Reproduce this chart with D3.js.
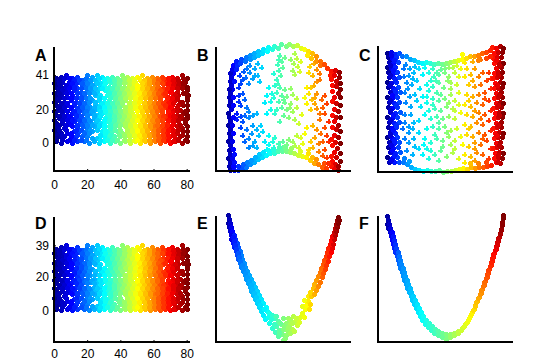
<!DOCTYPE html>
<html><head><meta charset="utf-8"><script src="https://cdn.jsdelivr.net/npm/d3@7"></script>
<style>html,body{margin:0;background:#fff}svg{display:block}text{font-family:"Liberation Sans",Arial,sans-serif}</style></head>
<body><svg id="c" width="540" height="360"></svg>
<script>
const xTicks=[0,20,40,60,80];
const aTicks=[0,20,41];
const dTicks=[0,20,39];
const panelLetters=["A","B","C","D","E","F"];
const jetStops=["#00008f","#0000ff","#0080ff","#00ffff","#80ff80","#ffff00","#ff8000","#ff0000","#800000"];
const planePts=[
1,39,4,40,7,41,11,39,14,40,17,38,20,41,23,40,26,41,29,40,32,39,35,40,38,39,41,41,44,40,47,39,50,40,53,41,56,39,59,40,62,39,65,40,68,38,71,40,74,39,77,41,80,39,
2,36,5,37,9,37,13,36,16,36,19,37,22,37,25,38,28,36,34,37,37,36,40,38,43,37,46,36,49,37,52,38,55,36,58,37,61,36,64,38,67,36,70,37,73,37,76,36,79,37,
1,34,4,34,7,33,10,35,14,33,18,34,21,34,24,35,27,33,30,35,33,34,36,34,39,35,42,34,45,33,48,35,51,34,54,33,57,35,60,34,63,34,66,33,69,35,72,34,75,33,78,35,
2,31,6,31,9,31,12,32,16,31,20,31,23,32,26,31,31,32,34,31,37,32,40,31,43,32,46,31,49,32,52,31,55,31,58,32,61,31,65,31,68,32,71,30,74,31,80,32,
1,28,4,29,8,28,11,29,14,28,18,29,21,28,25,29,28,29,32,29,35,28,38,29,41,28,44,29,47,28,50,29,53,28,56,29,59,28,62,28,66,29,69,28,72,28,75,29,78,30,81,29,
2,26,6,25,10,26,13,25,16,26,20,25,23,26,27,26,30,25,33,26,36,25,39,26,43,26,46,25,49,26,52,26,55,25,58,26,61,25,64,26,67,25,70,25,73,26,76,25,80,26,
1,23,4,23,8,23,12,23,15,22,18,23,22,22,25,23,28,23,31,22,34,23,37,22,41,23,44,22,47,23,50,23,53,22,56,23,59,23,62,22,65,23,68,22,71,23,75,23,78,23,
2,20,6,20,10,21,13,20,17,20,20,20,24,20,27,20,30,20,33,20,36,20,39,20,42,20,45,20,48,21,51,20,54,20,57,20,60,19,63,20,66,21,72,20,76,20,80,20,
1,17,5,18,8,17,11,18,15,17,18,18,22,18,26,17,29,18,32,17,35,18,38,17,41,18,44,17,47,18,50,17,53,18,56,17,59,18,62,17,65,18,68,17,71,18,74,17,78,18,
3,15,7,15,10,15,13,15,17,15,20,15,24,15,27,15,31,15,34,15,37,15,40,15,43,15,46,15,49,15,52,15,55,15,58,15,61,15,64,15,67,15,70,15,73,15,77,15,80,15,
1,12,5,12,9,12,12,13,16,12,19,12,22,13,25,12,28,12,32,13,35,12,38,13,42,12,45,13,48,12,51,13,54,12,57,13,60,12,63,13,66,12,69,13,72,12,75,13,79,12,
2,10,6,9,11,10,14,9,18,10,21,9,24,10,27,10,30,9,33,10,36,9,39,10,43,10,46,9,49,10,52,9,55,10,58,9,61,10,64,9,67,10,70,9,74,10,77,9,80,10,
1,7,4,6,8,6,12,7,15,7,19,7,23,7,29,7,32,7,35,7,38,7,41,6,44,7,47,7,50,6,53,7,56,7,59,6,62,7,65,7,68,6,71,7,74,6,78,7,
3,4,6,4,10,4,13,4,17,4,20,4,26,3,30,4,33,4,36,4,40,4,43,4,46,4,49,4,52,3,55,4,58,4,61,4,64,4,67,4,70,4,73,3,76,4,80,4,
1,1,4,0,8,1,11,0,14,1,18,1,21,0,24,1,27,0,30,1,34,0,37,1,40,0,43,1,46,0,49,1,52,0,55,1,58,0,61,1,64,0,67,1,70,0,73,1,77,0,80,1
];
const planeFill=[
3,38,6,39,9,39,12,38,15,38,19,39,22,38,27,39,30,38,33,38,36,38,39,38,42,39,45,38,48,38,51,39,54,38,57,38,60,38,63,38,66,39,69,39,72,38,75,38,78,39,
0,36,3,36,7,35,11,36,17,36,20,36,23,35,26,36,31,36,36,35,39,36,42,36,45,35,48,36,50,35,53,36,57,36,60,36,62,36,65,36,69,36,72,35,75,35,78,36,
3,33,5,32,9,33,12,34,16,33,19,33,22,33,25,33,29,33,32,33,35,33,38,33,41,33,44,32,47,33,50,33,53,33,56,33,59,33,62,33,64,32,68,33,71,33,74,33,77,33,80,34,
0,30,3,30,7,30,10,30,14,30,18,30,21,30,24,30,33,30,36,30,39,30,42,30,45,30,48,30,51,30,54,30,57,30,60,30,63,30,67,30,70,31,73,29,79,30,
3,27,6,27,10,28,13,27,16,28,19,27,22,27,27,28,30,27,34,27,37,27,40,27,43,27,46,27,49,27,52,27,55,27,58,27,61,27,64,28,68,27,71,27,74,27,80,28,
0,25,4,24,8,24,12,24,15,24,18,24,21,25,25,25,29,24,32,24,35,24,38,24,41,25,45,24,48,24,51,25,54,24,57,25,60,24,63,24,66,24,69,24,72,24,77,25,
3,22,6,22,10,22,14,21,17,22,20,22,24,22,27,22,30,22,33,22,36,22,39,22,43,22,46,22,49,22,52,22,55,22,58,22,61,22,64,22,67,23,70,22,74,22,80,23,
0,19,4,19,8,19,12,19,15,19,19,19,23,19,28,19,31,19,34,19,37,19,40,19,43,19,46,19,50,19,53,19,56,19,59,19,62,19,65,20,69,19,74,19,79,19,
3,16,6,16,9,16,13,17,16,16,20,17,24,17,28,16,33,17,36,16,39,16,42,16,45,16,48,16,51,16,54,16,57,16,60,16,64,16,66,16,70,17,72,16,76,16,80,17,
0,14,5,14,8,14,11,14,15,14,18,14,21,14,26,14,30,14,33,14,36,14,39,14,41,14,44,14,47,14,50,14,53,14,56,14,59,14,62,14,65,14,69,14,72,14,75,14,79,14,
3,11,7,11,10,11,14,11,17,11,20,11,23,11,27,11,30,11,34,11,37,11,40,11,43,12,46,11,49,11,52,11,55,11,58,11,62,11,65,11,68,11,71,11,76,11,
0,8,3,8,7,8,13,8,16,8,20,8,22,8,26,8,31,8,34,9,37,8,40,8,44,8,47,8,50,8,53,8,56,8,60,8,63,8,66,8,69,8,72,8,75,8,80,7,
2,5,5,5,10,6,14,5,18,6,21,6,28,5,31,6,34,5,39,5,42,5,45,5,48,5,51,5,54,5,57,5,60,5,63,5,66,5,69,5,72,5,77,5,
1,3,5,2,9,2,12,2,16,2,19,2,23,3,28,2,32,2,35,2,38,2,42,2,45,2,48,2,50,2,54,2,57,2,60,2,63,2,66,2,69,2,72,1,75,2,79,2
];
const bBand=[
14,1,18,1,13,5,17,5,14,9,18,9,12,13,16,13,14,17,18,17,13,21,17,22,14,26,12,30,16,30,14,34,13,38,17,38,14,42,12,46,16,46,14,50,13,54,17,54,12,58,15,62,13,66,17,66,14,70,13,74,17,74,14,78,16,82,13,82,15,86,14,90,18,90,15,94,17,98,14,98,16,102,20,102,
17,106,21,106,20,110,24,108,25,112,29,110,30,114,34,112,34,116,38,114,38,118,42,116,42,120,46,118,47,122,51,120,52,124,56,122,58,125,62,123,65,127,70,125,73,127,77,125,81,126,85,123,88,122,92,120,91,116,96,118,95,113,100,115,100,110,104,110,104,106,108,107,
111,103,115,100,119,101,123,99,114,96,118,96,123,94,115,92,120,90,124,88,116,86,120,85,124,82,116,80,122,78,118,74,124,74,116,70,120,68,124,66,118,62,122,60,116,56,120,54,124,54,118,50,122,46,116,44,120,42,124,40,118,36,122,34,115,32,119,29,124,28,116,26,121,23,118,19,124,18,115,15,120,14,124,10,116,10,119,7,122,5,115,5,118,2,122,1,
22,1,26,3,22,5,30,4,27,7,34,7,31,9,38,9,35,11,42,12,39,14,46,14,43,17,50,16,47,19,54,18,58,18,62,20,66,20,70,20,74,19,78,18,82,16,86,15,84,20,90,14,92,18,94,11,98,8,96,14,102,7,106,4,100,12,110,3,108,8,112,8,
52,21,57,22,63,24,69,24,75,23
];
const bInner=[
30,103,33,99,38,103,41,96,29,94,36,93,23,96,24,88,32,88,43,90,45,104,27,100,38,96,33,106,41,108,26,92,
61,107,62,101,64,96,60,92,65,110,62,112,57,98,61,88,66,104,68,114,63,116,
78,118,80,113,77,108,81,105,76,101,74,112,84,110,78,97,83,100,
100,102,103,98,100,90,96,96,93,105,103,92,97,86,97,108,92,99,
52,84,58,86,63,84,68,82,74,83,50,76,55,78,60,79,65,76,70,75,76,77,80,73,48,69,54,70,62,70,68,69,74,68,60,62,65,64,70,62,76,60,80,64,54,62,50,58,67,56,72,54,78,52,63,50,82,48,85,57,57,74,67,72,73,64,58,58,
90,84,92,78,95,72,98,68,100,63,103,58,94,62,90,68,88,74,100,78,105,72,110,68,108,58,103,52,98,74,94,84,108,76,106,64,
20,58,24,55,28,56,32,54,36,56,40,58,30,64,24,66,28,72,22,76,26,50,22,70,26,78,20,52,32,60,24,44,22,84,
36,46,40,42,35,38,32,33,38,30,32,24,44,46,42,36,36,26,28,30,40,24,26,36,30,42,46,40,
48,30,52,27,57,24,62,28,66,24,70,27,74,22,78,26,82,24,50,22,56,30,60,20,86,28,52,36,72,32,58,34,66,30,76,30,
96,46,100,42,104,38,98,34,94,30,102,28,92,22,108,44,106,30,88,38,84,34,80,36,90,44,102,20,108,22,112,30,110,14,110,36,112,50,96,24,106,16
];
const cBand=[
9,119,13,120,17,118,21,119,10,115,14,114,18,115,11,110,15,109,20,110,9,105,13,104,17,105,10,100,15,99,19,100,11,95,16,94,21,95,9,90,13,89,18,90,10,85,15,84,20,85,12,80,17,79,22,80,9,75,14,74,19,75,11,70,16,69,21,70,10,65,14,64,19,65,12,60,17,59,22,60,9,55,14,54,19,55,11,50,16,49,21,50,10,45,14,44,18,45,12,40,17,39,9,35,14,34,19,35,11,30,16,29,21,30,10,25,15,24,20,25,12,20,17,19,22,20,9,15,14,14,19,15,11,10,16,10,21,10,
24,116,28,116,32,113,36,112,40,110,44,109,48,110,52,109,56,108,60,109,64,108,68,109,72,110,76,111,80,112,84,113,88,114,92,116,96,116,100,117,104,119,108,120,112,122,
114,125,118,124,122,126,125,124,116,119,120,120,124,120,115,114,119,115,123,115,116,109,121,110,125,109,118,104,123,105,116,99,120,100,124,100,115,94,119,95,123,95,117,89,122,90,125,89,116,84,120,84,124,85,118,79,123,80,116,74,120,75,124,75,118,69,122,70,125,69,115,64,119,65,123,65,117,59,121,60,125,59,116,54,120,55,124,55,118,49,123,50,115,44,119,45,123,45,117,39,121,40,125,39,116,34,120,35,124,35,118,29,122,30,115,24,119,25,123,25,117,19,121,20,125,19,116,14,120,15,124,14,118,10,122,9,
25,10,29,8,33,5,37,3,41,2,45,1,49,2,53,1,57,1,61,2,65,0,69,1,73,1,77,2,81,3,85,4,89,3,93,5,97,4,101,5,105,5,109,6,113,7,26,14,31,11,92,9,100,9,108,10,
84,118,100,112,108,114,112,116,
13,117,16,112,12,107,15,102,12,97,17,92,12,87,17,82,14,77,12,72,18,67,12,62,15,57,12,52,18,47,15,42,12,37,16,32,13,27,14,22,16,17,13,12,118,112,121,107,120,97,119,87,121,77,120,67,121,57,120,47,118,37,121,27,120,17,120,10
];
const cInner=[
46,105,54,104,62,103,70,105,78,107,86,110,94,111,102,113,58,100,66,104,
27,108,31,104,30,97,35,100,28,90,33,88,38,92,26,80,31,76,36,78,41,84,27,70,32,66,38,72,29,84,25,96,34,94,25,104,40,104,36,106,
44,98,50,100,55,96,60,98,66,100,70,96,48,88,54,86,60,90,65,85,72,90,76,100,80,96,78,88,52,92,57,92,69,92,74,105,82,104,
44,76,48,70,54,74,60,72,66,74,72,78,76,72,80,80,42,66,50,62,56,64,62,62,68,66,74,64,80,68,46,58,52,54,58,56,64,54,70,56,76,54,82,60,50,82,58,80,72,84,48,76,62,78,54,68,70,70,76,62,60,50,
88,104,92,98,96,104,100,96,104,100,90,88,96,86,102,88,108,92,88,78,94,76,100,78,106,80,112,84,94,92,110,100,112,94,86,96,
86,68,92,66,98,70,104,68,110,72,88,58,94,56,100,60,106,58,112,62,86,48,92,46,98,50,104,48,110,52,96,62,90,72,106,74,102,54,
88,38,94,36,100,40,106,38,112,42,84,28,90,26,96,30,102,28,108,32,112,24,86,18,92,16,98,20,104,18,110,14,96,24,90,44,104,34,96,12,
26,50,30,46,35,50,40,52,26,34,30,30,35,34,40,40,28,22,34,18,40,24,45,28,30,40,24,44,34,44,26,58,32,58,36,26,
48,44,54,46,60,44,66,46,72,42,78,44,46,34,52,30,58,34,64,32,70,36,76,32,82,36,44,18,50,14,56,18,62,22,68,16,74,20,80,14,52,22,64,26,76,24,56,38,68,40,48,24,72,28,60,12,86,10
];
const ePts=[
12,127,13,123,12,119,14,119,13,115,15,115,14,111,16,111,15,107,18,107,15,103,19,103,17,99,21,99,18,95,22,95,20,91,24,91,21,87,25,87,22,83,26,83,24,79,28,79,25,75,29,75,27,71,31,71,29,67,33,67,30,63,35,63,32,59,37,59,34,55,39,55,35,51,41,51,37,47,43,47,39,43,45,43,41,39,47,39,43,35,46,33,50,35,45,31,51,31,47,27,53,29,49,23,52,25,56,27,
17,105,18,101,19,97,20,93,22,89,23,85,24,81,26,77,27,73,29,69,31,65,33,61,35,57,36,53,38,49,40,45,42,41,44,37,48,33,
53,19,58,24,62,21,67,24,72,24,77,26,56,14,60,16,65,18,70,19,74,18,79,21,84,25,59,10,63,12,67,13,71,12,76,13,81,17,62,6,66,8,70,7,74,9,78,11,83,20,67,2,69,4,
55,23,60,26,64,19,74,22,80,24,58,18,68,16,63,9,72,15,76,19,
86,29,88,25,89,33,86,36,90,37,93,33,92,41,88,42,94,38,92,46,95,46,94,50,98,48,97,54,100,52,98,58,102,56,100,62,104,60,102,66,106,65,104,70,107,69,105,74,109,73,107,78,110,77,108,82,112,81,110,86,113,86,111,90,115,90,112,94,116,94,114,98,117,98,115,102,118,103,116,106,119,107,118,110,120,111,119,114,121,115,120,118,122,119,121,122,123,122,122,125
];
const fPts=[
9,126,10,122,9,118,11,118,10,114,12,114,12,110,14,110,13,106,15,106,14,102,16,102,15,98,17,98,16,94,18,94,17,90,20,90,19,86,21,86,20,82,22,82,21,78,23,78,22,74,25,74,24,70,26,70,25,66,27,66,26,62,29,62,28,58,30,58,29,54,32,54,31,50,33,50,33,46,35,46,34,42,37,42,36,38,39,38,38,34,41,34,40,30,43,30,42,26,45,26,44,22,48,22,47,18,51,19,50,15,54,16,53,12,57,13,56,9,60,11,60,7,64,9,64,5,68,8,68,3,72,8,72,5,76,9,76,7,80,11,80,9,84,14,83,12,87,18,86,16,90,22,89,20,92,26,91,24,94,30,93,28,96,33,95,32,97,37,97,36,99,41,98,40,101,45,100,44,103,49,102,48,104,53,103,52,106,57,105,56,107,61,106,60,109,65,108,64,110,69,109,68,111,73,110,72,113,77,112,76,114,81,113,80,115,85,114,84,116,89,115,88,118,93,117,92,119,97,118,96,120,101,119,100,121,105,120,104,122,109,122,108,123,113,123,112,124,117,124,120,125,124,125,127
];
const bColorStops=[11,17,31,51,71,89,102,117,124];
const cColorStops=[9,14,26,45,67,84,100,117,125];
const eColorStops=[11,16,25,50,67,90,103,115,122];
const fColorStops=[8,14,22,43,68,92,104,116,125];
const planeColorStops=[0,10,20,30,40,50,60,70,80];

const svg=d3.select("#c");
// markers are plus signs: a full one for dense bands, a lean one for scattered points
const fullD="M-1,-2H2V-1H3V2H2V3H-1V2H-2V-1H-1Z";
const thinD="M0,-2H2V0H3V2H2V3H0V2H-2V0H0Z";
const toPairs=a=>d3.range(0,a.length,2).map(i=>[a[i],a[i+1]]);
function scatter(g,pts,sx,sy,stops,d){
  const col=d3.scaleLinear().domain(stops).range(jetStops).clamp(true);
  g.append("g").selectAll("path").data(toPairs(pts)).join("path").attr("d",d)
   .attr("shape-rendering","crispEdges")
   .attr("transform",p=>`translate(${Math.round(sx(p[0]))},${Math.round(sy(p[1]))})`)
   .attr("fill",p=>col(p[0]));
}
function axes(g,sx,sy,xt,yt,pad){
  const ax=g.append("g").attr("transform",`translate(0,${sy.range()[0]})`).call(
    d3.axisBottom(sx).tickValues(xt).tickSize(-2).tickPadding(pad).tickFormat(d3.format("d")));
  const ay=g.append("g").attr("transform",`translate(${sx.range()[0]},0)`).call(
    d3.axisLeft(sy).tickValues(yt).tickSize(-2).tickPadding(5).tickFormat(d3.format("d")));
  for(const a of [ax,ay]){
    a.select(".domain").attr("stroke","#000").attr("stroke-width",2);
    a.selectAll("text").attr("font-size",12).attr("font-family","Liberation Sans").attr("fill","#000");
    a.selectAll("line").attr("stroke","#000");
  }
  ax.select(".domain").attr("d",`M${sx.range()[0]-1},0H${sx.range()[1]}`);
  ay.select(".domain").attr("d",`M0,${sy.range()[0]}V${sy.range()[1]}`);
}
function label(t,x,y){svg.append("text").attr("x",x).attr("y",y).attr("font-size",16).attr("font-weight","bold").attr("fill","#000").attr("font-family","Liberation Sans").text(t);}

// plane panels
const planeX=d3.scaleLinear().domain([0,82]).range([54,190]);
const aY=d3.scaleLinear().domain([-17,58]).range([171,47]);
const dY=d3.scaleLinear().domain([-19,56]).range([342,217]);
const dMark=d3.scaleLinear().domain([0,41]).range([dY(0),dY(39)]);
const gA=svg.append("g"),gD=svg.append("g");
for(const pts of [planePts,planeFill]){
  scatter(gA,pts,planeX,aY,planeColorStops,fullD);
  scatter(gD,pts,planeX,dMark,planeColorStops,fullD);
}
axes(gA,planeX,aY,xTicks,aTicks,9);
axes(gD,planeX,dY,xTicks,dTicks,7);
// embedding panels
function emb(x0,y0,h,band,inner,stops){
  const sx=d3.scaleLinear().domain([0,135]).range([x0,x0+135]);
  const sy=d3.scaleLinear().domain([0,h]).range([y0,y0-h]);
  const g=svg.append("g");
  scatter(g,inner,sx,sy,stops,thinD);scatter(g,band,sx,sy,stops,fullD);
  axes(g,sx,sy,[],[],9);
}
emb(216,171,124,bBand,bInner,bColorStops);
emb(378,172,126,cBand,cInner,cColorStops);
emb(216,342,126,ePts,[],eColorStops);
emb(378,342,126,fPts,[],fColorStops);
const lpos=[[35,61],[197,61],[359,61],[35,229],[197,229],[359,229]];
panelLetters.forEach((t,i)=>label(t,lpos[i][0],lpos[i][1]));
</script></body></html>
